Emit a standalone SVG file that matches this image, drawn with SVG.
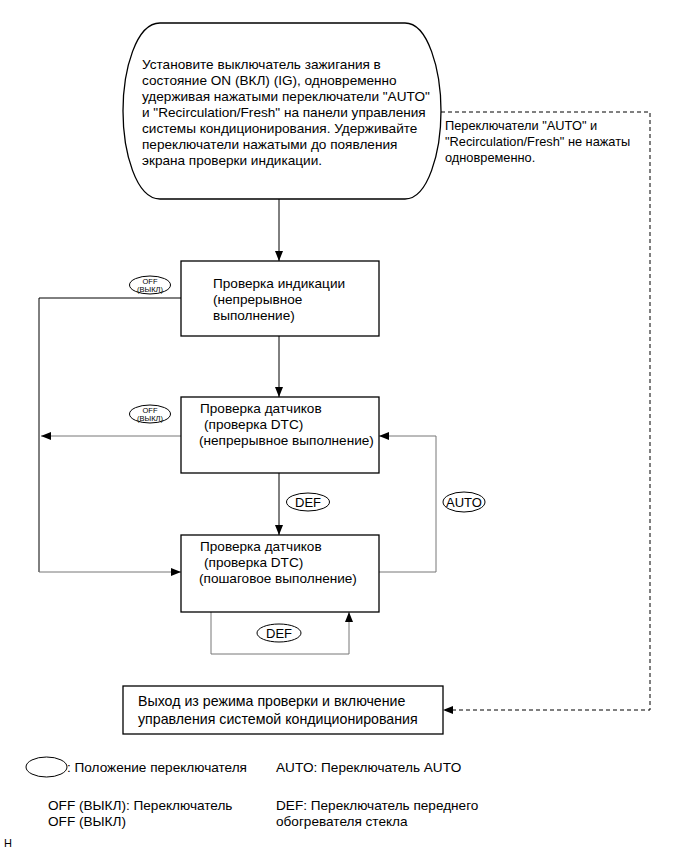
<svg xmlns="http://www.w3.org/2000/svg" width="690" height="854" viewBox="0 0 690 854">
<style>
text{font-family:"Liberation Sans",Arial,sans-serif;font-size:13.6px;fill:#000}
.box{fill:#fff;stroke:#000;stroke-width:1.3}
.sw{fill:#fff;stroke:#000;stroke-width:1}
.k{fill:none;stroke:#000;stroke-width:1}
.g{fill:none;stroke:#777;stroke-width:1}
.d{fill:none;stroke:#000;stroke-width:1;stroke-dasharray:4,3}
.s{font-size:13px}
.t{font-size:7.5px}
.b{font-size:14.2px}
.n{font-size:12.8px}
</style>
<defs>
<marker id="ah" markerWidth="10" markerHeight="8" refX="10" refY="4" orient="auto" markerUnits="userSpaceOnUse">
<path d="M0,0 L10,4 L0,8 Z" fill="#000"/>
</marker>
</defs>
<g id="connectors">
<line class="k" x1="279" y1="199" x2="279" y2="261" marker-end="url(#ah)"/>
<line class="k" x1="279" y1="336" x2="279" y2="397" marker-end="url(#ah)"/>
<line class="k" x1="279" y1="473" x2="279" y2="535" marker-end="url(#ah)"/>
<polyline class="k" points="181,298 39,298 39,572"/>
<line class="g" x1="39" y1="572" x2="181" y2="572" marker-end="url(#ah)"/>
<line class="g" x1="181" y1="436" x2="41" y2="436" marker-end="url(#ah)"/>
<polyline class="g" points="379,572 436,572 436,436 379,436" marker-end="url(#ah)"/>
<polyline class="g" points="211,612 211,654 349,654 349,612" marker-end="url(#ah)"/>
<polyline class="d" points="441,112 650,112 650,710 443,710" marker-end="url(#ah)"/>
</g>
<g id="start">
<path class="box" d="M160,23 H405 C428,23 441,70 441,111 C441,152 428,199 405,199 H160 C136,199 123,152 123,111 C123,70 136,23 160,23 Z"/>
<text x="142" y="69">Установите выключатель зажигания в</text>
<text x="142" y="85">состояние ON (ВКЛ) (IG), одновременно</text>
<text x="142" y="101">удерживая нажатыми переключатели "AUTO"</text>
<text x="142" y="117">и "Recirculation/Fresh" на панели управления</text>
<text x="142" y="133">системы кондиционирования. Удерживайте</text>
<text x="142" y="149">переключатели нажатыми до появления</text>
<text x="142" y="165">экрана проверки индикации.</text>
</g>
<g id="note">
<text class="n" x="445" y="130">Переключатели "AUTO" и</text>
<text class="n" x="445" y="146">"Recirculation/Fresh" не нажаты</text>
<text class="n" x="445" y="162">одновременно.</text>
</g>
<g id="box1">
<rect class="box" x="181" y="261" width="198" height="75"/>
<text x="213" y="288">Проверка индикации</text>
<text x="213" y="304">(непрерывное</text>
<text x="213" y="320">выполнение)</text>
</g>
<g id="box2">
<rect class="box" x="181" y="397" width="198" height="76"/>
<text x="200" y="413">Проверка датчиков</text>
<text x="204" y="429">(проверка DTC)</text>
<text x="199" y="445">(непрерывное выполнение)</text>
</g>
<g id="box3">
<rect class="box" x="181" y="535" width="198" height="77"/>
<text x="200" y="551">Проверка датчиков</text>
<text x="204" y="567">(проверка DTC)</text>
<text x="199" y="583">(пошаговое выполнение)</text>
</g>
<g id="box4">
<rect class="box" x="123" y="686" width="320" height="48"/>
<text class="b" x="138" y="706">Выход из режима проверки и включение</text>
<text class="b" x="138" y="724">управления системой кондиционирования</text>
</g>
<g id="sw-off1">
<ellipse class="sw" cx="150" cy="285" rx="20.5" ry="9"/>
<text class="t" x="150" y="283.5" text-anchor="middle">OFF</text>
<text class="t" x="150" y="291.5" text-anchor="middle">(ВЫКЛ)</text>
</g>
<g id="sw-off2">
<ellipse class="sw" cx="150" cy="414" rx="20.5" ry="9"/>
<text class="t" x="150" y="412.5" text-anchor="middle">OFF</text>
<text class="t" x="150" y="420.5" text-anchor="middle">(ВЫКЛ)</text>
</g>
<g id="sw-def1">
<ellipse class="sw" cx="308" cy="502" rx="21.5" ry="9"/>
<text class="s" x="308" y="506.5" text-anchor="middle">DEF</text>
</g>
<g id="sw-auto">
<ellipse class="sw" cx="464" cy="502" rx="21" ry="10"/>
<text class="s" x="464" y="506.5" text-anchor="middle">AUTO</text>
</g>
<g id="sw-def2">
<ellipse class="sw" cx="279" cy="633" rx="22" ry="9"/>
<text class="s" x="279" y="637.5" text-anchor="middle">DEF</text>
</g>
<g id="legend">
<ellipse class="sw" cx="46.5" cy="767" rx="20.5" ry="10"/>
<text x="67" y="772">: Положение переключателя</text>
<text x="276" y="772">AUTO: Переключатель AUTO</text>
<text x="48" y="810">OFF (ВЫКЛ): Переключатель</text>
<text x="48" y="826">OFF (ВЫКЛ)</text>
<text x="276" y="810">DEF: Переключатель переднего</text>
<text x="276" y="826">обогревателя стекла</text>
<text x="4" y="847" style="font-size:11px">H</text>
</g>
</svg>
